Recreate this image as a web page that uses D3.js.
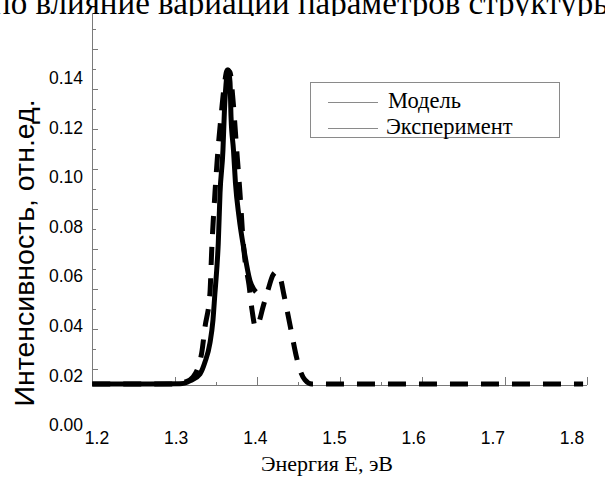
<!DOCTYPE html>
<html>
<head>
<meta charset="utf-8">
<script src="https://cdn.jsdelivr.net/npm/d3@7"></script>
<style>
  body { margin: 0; background: #fff; }
  svg { display: block; }
</style>
</head>
<body>
<svg id="chart"></svg>
<script>
// values
const energyLabels = [1.2, 1.3, 1.4, 1.5, 1.6, 1.7, 1.8];
const intensityLabels = [0.00, 0.02, 0.04, 0.06, 0.08, 0.10, 0.12, 0.14];
const legendNames = ['Модель', 'Эксперимент'];

// solid curve
const solidEnergy = [1.194, 1.267, 1.3048, 1.3175, 1.3301, 1.3364, 1.3427, 1.3465, 1.349, 1.3512, 1.3532, 1.3554, 1.3591, 1.361, 1.3629, 1.3655, 1.368, 1.3693, 1.3724, 1.3749, 1.3794, 1.3857, 1.3933, 1.4008];
const solidIntensity = [0.0165, 0.0165, 0.0166, 0.0178, 0.0206, 0.0254, 0.0331, 0.0424, 0.0533, 0.0625, 0.0734, 0.0936, 0.1109, 0.1271, 0.1372, 0.1432, 0.1384, 0.1243, 0.1109, 0.0976, 0.0839, 0.0706, 0.0581, 0.0537];

// dashed curve
const dashedEnergy = [1.194, 1.300, 1.3111, 1.3213, 1.3322, 1.3364, 1.3427, 1.3449, 1.349, 1.3528, 1.3566, 1.3604, 1.3646, 1.368, 1.3718, 1.3765, 1.3806, 1.3848, 1.3869, 1.392, 1.3958, 1.4002, 1.4046, 1.4097, 1.416, 1.4223, 1.4261, 1.4312, 1.4362, 1.4413, 1.4463, 1.4514, 1.4564, 1.4627, 1.4716, 1.814];
const dashedIntensity = [0.0165, 0.0165, 0.0173, 0.0194, 0.029, 0.0395, 0.0533, 0.0706, 0.0936, 0.1109, 0.1243, 0.136, 0.1432, 0.1424, 0.1311, 0.1109, 0.0936, 0.0734, 0.0666, 0.0565, 0.0464, 0.0395, 0.0416, 0.0476, 0.0545, 0.0605, 0.0617, 0.0597, 0.0524, 0.0444, 0.0363, 0.0282, 0.0222, 0.0182, 0.0165, 0.0165];

const width = 605;
const height = 479;

const svg = d3.select('#chart')
  .attr('width', width)
  .attr('height', height);

const x = d3.scaleLinear().domain([1.2, 1.8]).range([97, 572]);
const y = d3.scaleLinear().domain([0, 0.14]).range([425, 78]);
// frame ticks do not line up with the labels in the original
const xFrame = d3.scaleLinear().domain([0, 12]).range([92, 587]);
const yFrame = d3.scaleLinear().domain([0, 17]).range([369, 29]);
const frameBottom = 385;
const frameTop = 13;
const axisColor = '#7a7a7a';

// caption cut off at top
svg.append('clipPath').attr('id', 'top-clip')
  .append('rect').attr('x', 0).attr('y', 0).attr('width', width).attr('height', 16);

svg.append('text')
  .attr('clip-path', 'url(#top-clip)')
  .attr('x', -7)
  .attr('y', 14)
  .style('font-family', '"Liberation Serif", "Times New Roman", serif')
  .style('font-size', '33px')
  .text('по влияние вариаций параметров структуры');

// frame
const frame = svg.append('g').attr('class', 'frame')
  .attr('stroke', axisColor)
  .attr('stroke-width', 1);

frame.append('line')
  .attr('x1', xFrame(0) + 0.5).attr('x2', xFrame(0) + 0.5)
  .attr('y1', frameTop).attr('y2', frameBottom);

frame.append('line')
  .attr('x1', xFrame(0)).attr('x2', xFrame(12))
  .attr('y1', frameBottom + 0.5).attr('y2', frameBottom + 0.5);

frame.selectAll('.ytick')
  .data(d3.range(0, 18))
  .enter().append('line')
  .attr('class', 'ytick')
  .attr('x1', xFrame(0))
  .attr('x2', d => xFrame(0) + (d % 2 === 0 ? 6 : 4))
  .attr('y1', d => Math.round(yFrame(d)) + 0.5)
  .attr('y2', d => Math.round(yFrame(d)) + 0.5);

frame.selectAll('.xtick')
  .data(d3.range(1, 13))
  .enter().append('line')
  .attr('class', 'xtick')
  .attr('x1', d => Math.round(xFrame(d)) + 0.5)
  .attr('x2', d => Math.round(xFrame(d)) + 0.5)
  .attr('y1', frameBottom)
  .attr('y2', d => frameBottom - (d % 2 === 0 ? 8 : 3));

// tick labels
svg.append('g')
  .selectAll('text')
  .data(intensityLabels)
  .enter().append('text')
  .attr('x', 83)
  .attr('y', d => y(d))
  .attr('dy', '0.35em')
  .attr('text-anchor', 'end')
  .style('font-family', '"Liberation Sans", Arial, sans-serif')
  .style('font-size', '17.5px')
  .text(d => d.toFixed(2));

svg.append('g')
  .selectAll('text')
  .data(energyLabels)
  .enter().append('text')
  .attr('x', d => x(d))
  .attr('y', 444)
  .attr('text-anchor', 'middle')
  .style('font-family', '"Liberation Sans", Arial, sans-serif')
  .style('font-size', '17.5px')
  .text(d => d.toFixed(1));

// axis titles
svg.append('text')
  .attr('transform', 'translate(34,253) rotate(-90)')
  .attr('text-anchor', 'middle')
  .style('font-family', '"Liberation Sans", Arial, sans-serif')
  .style('font-size', '28.5px')
  .text('Интенсивность, отн.ед.');

svg.append('text')
  .attr('x', 327)
  .attr('y', 471)
  .attr('text-anchor', 'middle')
  .style('font-family', '"Liberation Serif", "Times New Roman", serif')
  .style('font-size', '22px')
  .text('Энергия Е, эВ');

// curves
const line = d3.line()
  .x(d => x(d[0]))
  .y(d => y(d[1]))
  .curve(d3.curveMonotoneX);

svg.append('path')
  .datum(d3.zip(dashedEnergy, dashedIntensity))
  .attr('d', line)
  .attr('fill', 'none')
  .attr('stroke', '#000')
  .attr('stroke-width', 5)
  .attr('stroke-dasharray', '18,13');

svg.append('path')
  .datum(d3.zip(solidEnergy, solidIntensity))
  .attr('d', line)
  .attr('fill', 'none')
  .attr('stroke', '#000')
  .attr('stroke-width', 5)
  .attr('stroke-linejoin', 'round');

// legend
const legend = svg.append('g').attr('class', 'legend');

legend.append('rect')
  .attr('x', 310.5)
  .attr('y', 82.5)
  .attr('width', 249)
  .attr('height', 55)
  .attr('fill', '#fff')
  .attr('stroke', '#8a8a8a');

legend.selectAll('line')
  .data(legendNames)
  .enter().append('line')
  .attr('x1', 328)
  .attr('x2', 378)
  .attr('y1', (d, i) => 102.5 + i * 26)
  .attr('y2', (d, i) => 102.5 + i * 26)
  .attr('stroke', '#8a8a8a');

legend.selectAll('text')
  .data(legendNames)
  .enter().append('text')
  .attr('x', (d, i) => 388 - i * 2)
  .attr('y', (d, i) => 108 + i * 26)
  .style('font-family', '"Liberation Serif", "Times New Roman", serif')
  .style('font-size', '22.5px')
  .text(d => d);
</script>
</body>
</html>
